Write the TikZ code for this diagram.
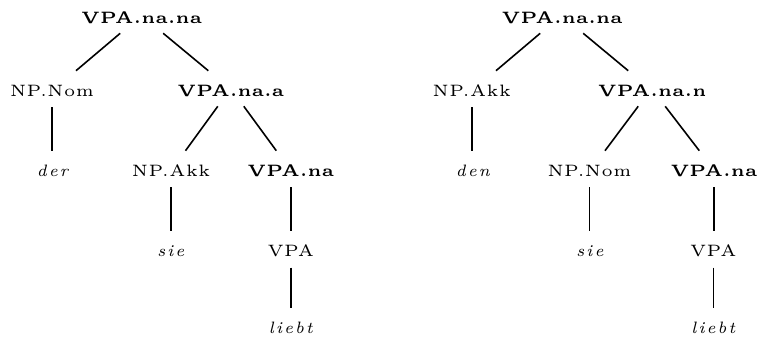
\documentclass[tikz,border=0pt]{standalone}
\usepackage{fontspec}
\usetikzlibrary{calc}
\newfontfamily\rmlab[LetterSpace=3]{lmroman5-regular.otf}
\newfontfamily\bflab[LetterSpace=2]{lmroman5-bold.otf}
\newfontfamily\itlab[LetterSpace=12]{lmroman7-italic.otf}
\tikzset{
  lab/.style={inner sep=0pt, anchor=base, font={\fontsize{16.5}{19}\selectfont\rmlab}},
  hd/.style={lab, font={\fontsize{16.5}{19}\selectfont\bflab}},
  wd/.style={lab, font={\fontsize{16.5}{19}\selectfont\itlab}},
  br/.style={line width=1.6pt}
}
% left branch, right branch, vertical branch
\newcommand\brLeft[4]{\draw[br] ($(#1.base)+(-#3,10.3)$) -- ($(#2.base)+(#4,-25.3)$);}
\newcommand\brRight[4]{\draw[br] ($(#1.base)+(#3,10.3)$) -- ($(#2.base)+(-#4,-25.3)$);}
\newcommand\brVert[2]{\draw[br] ($(#1.base)+(0,11)$) -- ($(#1.base|-#2.base)+(0,-25.3)$);}
\begin{document}
\begin{tikzpicture}[x=1pt,y=-1pt]
\useasboundingbox (0,0) rectangle (758,341);
% left tree
\node[hd] (L0) at (141.7,23) {VPA.na.na};
\node[lab] (L1) at (52,96) {NP.Nom};
\node[hd] (L2) at (230.8,96) {VPA.na.a};
\node[wd] (L3) at (52.5,176) {der};
\node[lab] (L4) at (171,176) {NP.Akk};
\node[hd] (L5) at (290.8,176) {VPA.na};
\node[wd] (L6) at (170.8,256.5) {sie};
\node[lab] (L7) at (290.8,256.5) {VPA};
\node[wd] (L8) at (290.8,333.5) {liebt};
\brLeft{L0}{L1}{21.5}{24}
\brRight{L0}{L2}{21.5}{22.5}
\brVert{L1}{L3}
\brLeft{L2}{L4}{13}{14.5}
\brRight{L2}{L5}{13}{14.5}
\brVert{L4}{L6}
\brVert{L5}{L7}
\brVert{L7}{L8}
% right tree
\node[hd] (R0) at (562.2,23) {VPA.na.na};
\node[lab] (R1) at (471.7,96) {NP.Akk};
\node[hd] (R2) at (652.2,96) {VPA.na.n};
\node[wd] (R3) at (472.8,176) {den};
\node[lab] (R4) at (589.5,176) {NP.Nom};
\node[hd] (R5) at (714,176) {VPA.na};
\node[wd] (R6) at (590,256.5) {sie};
\node[lab] (R7) at (713.3,256.5) {VPA};
\node[wd] (R8) at (713.3,333.5) {liebt};
\brLeft{R0}{R1}{22}{24.3}
\brRight{R0}{R2}{21}{24}
\brVert{R1}{R3}
\brLeft{R2}{R4}{14}{15.5}
\brRight{R2}{R5}{13}{14.7}
\brVert{R4}{R6}
\brVert{R5}{R7}
\brVert{R7}{R8}
\end{tikzpicture}
\end{document}
